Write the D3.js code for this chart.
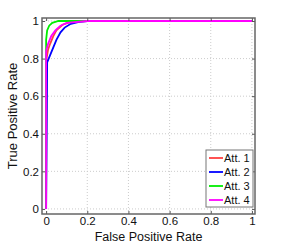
<!DOCTYPE html>
<html>
<head>
<meta charset="utf-8">
<script src="https://cdn.jsdelivr.net/npm/d3@7"></script>
<style>
  body { margin: 0; background: #fff; }
  text { font-family: "Liberation Sans", Arial, sans-serif; fill: #111; }
</style>
</head>
<body>
<svg id="plot" width="283" height="247"></svg>
<script>
// ROC points per attack: [false positive rate, true positive rate]
const ATT1 = [[0,0],[0.002,0.80],[0.01,0.85],[0.02,0.88],[0.035,0.92],[0.05,0.95],[0.08,0.98],[0.12,0.995],[0.2,1],[1,1]];
const ATT2 = [[0,0],[0.005,0.78],[0.02,0.82],[0.035,0.86],[0.05,0.90],[0.07,0.94],[0.09,0.965],[0.12,0.985],[0.16,0.995],[0.2,1],[1,1]];
const ATT3 = [[0,0],[0,0.90],[0.005,0.95],[0.015,0.975],[0.03,0.99],[0.06,1],[1,1]];
const ATT4 = [[0,0],[0,0.84],[0.01,0.88],[0.025,0.92],[0.045,0.95],[0.07,0.975],[0.1,0.99],[0.2,1],[1,1]];
const NAMES = ['Att. 1', 'Att. 2', 'Att. 3', 'Att. 4'];
const COLORS = ['#ff4040', '#0000ff', '#00ee00', '#ff00ff'];
const TICKS = [0, 0.2, 0.4, 0.6, 0.8, 1];

const series = [ATT1, ATT2, ATT3, ATT4];

const box = { left: 42, right: 255, top: 18, bottom: 214 };

const svg = d3.select('#plot');

const x = d3.scaleLinear().domain([-0.02, 1.015]).range([box.left, box.right]);
const y = d3.scaleLinear().domain([-0.027, 1.016]).range([box.bottom, box.top]);

const fmt = d => d === 0 ? '0' : d === 1 ? '1' : d3.format('.1f')(d);

// grid
svg.append('g').selectAll('line')
	.data(TICKS.slice(1))
	.enter().append('line')
	.attr('x1', d => x(d)).attr('x2', d => x(d))
	.attr('y1', box.top).attr('y2', box.bottom)
	.attr('stroke', '#cccccc').attr('stroke-dasharray', '1,2');

svg.append('g').selectAll('line')
	.data(TICKS)
	.enter().append('line')
	.attr('y1', d => y(d)).attr('y2', d => y(d))
	.attr('x1', box.left).attr('x2', box.right)
	.attr('stroke', '#cccccc').attr('stroke-dasharray', '1,2');

// curves
const line = d3.line().x(d => x(d[0])).y(d => y(d[1]));
svg.append('g').selectAll('path')
	.data(series)
	.enter().append('path')
	.attr('d', line)
	.attr('fill', 'none')
	.attr('stroke', (d, i) => COLORS[i])
	.attr('stroke-width', 1.8);

// axes (inner ticks, box on all sides)
svg.append('g')
	.attr('transform', `translate(0,${box.bottom})`)
	.call(d3.axisBottom(x).tickValues(TICKS).tickFormat(fmt).tickSizeInner(-3).tickSizeOuter(0).tickPadding(3))
	.call(g => g.select('.domain').remove())
	.call(g => g.selectAll('text').attr('font-size', 11.5).attr('font-family', '"Liberation Sans", Arial, sans-serif'));

svg.append('g')
	.attr('transform', `translate(${box.left},0)`)
	.call(d3.axisLeft(y).tickValues(TICKS).tickFormat(fmt).tickSizeInner(-3).tickSizeOuter(0).tickPadding(3))
	.call(g => g.select('.domain').remove())
	.call(g => g.selectAll('text').attr('font-size', 11.5).attr('font-family', '"Liberation Sans", Arial, sans-serif'));

svg.append('g')
	.attr('transform', `translate(${box.right},0)`)
	.call(d3.axisRight(y).tickValues(TICKS).tickFormat('').tickSizeInner(-3).tickSizeOuter(0))
	.call(g => g.select('.domain').remove());

svg.append('g')
	.attr('transform', `translate(0,${box.top})`)
	.call(d3.axisTop(x).tickValues(TICKS).tickFormat('').tickSizeInner(-3).tickSizeOuter(0))
	.call(g => g.select('.domain').remove());

svg.selectAll('.tick line').attr('stroke', '#555');

svg.append('rect')
	.attr('x', box.left).attr('y', box.top)
	.attr('width', box.right - box.left).attr('height', box.bottom - box.top)
	.attr('fill', 'none').attr('stroke', '#666').attr('stroke-width', 1.5);

// axis titles
svg.append('text')
	.attr('x', (box.left + box.right) / 2).attr('y', 240.5)
	.attr('text-anchor', 'middle').attr('font-size', 12.5)
	.text('False Positive Rate');

svg.append('text')
	.attr('transform', `translate(17,${(box.top + box.bottom) / 2}) rotate(-90)`)
	.attr('text-anchor', 'middle').attr('font-size', 13)
	.text('True Positive Rate');

// legend
const leg = svg.append('g').attr('transform', 'translate(206,150)');
leg.append('rect')
	.attr('width', 47).attr('height', 57)
	.attr('fill', '#fff').attr('stroke', '#777');
const items = leg.selectAll('g')
	.data(NAMES)
	.enter().append('g')
	.attr('transform', (d, i) => `translate(0,${8 + i * 14})`);
items.append('line')
	.attr('x1', 3).attr('x2', 17)
	.attr('stroke', (d, i) => COLORS[i]).attr('stroke-width', 1.8);
items.append('text')
	.attr('x', 18).attr('y', 4)
	.attr('font-size', 11)
	.text(d => d);
</script>
</body>
</html>
